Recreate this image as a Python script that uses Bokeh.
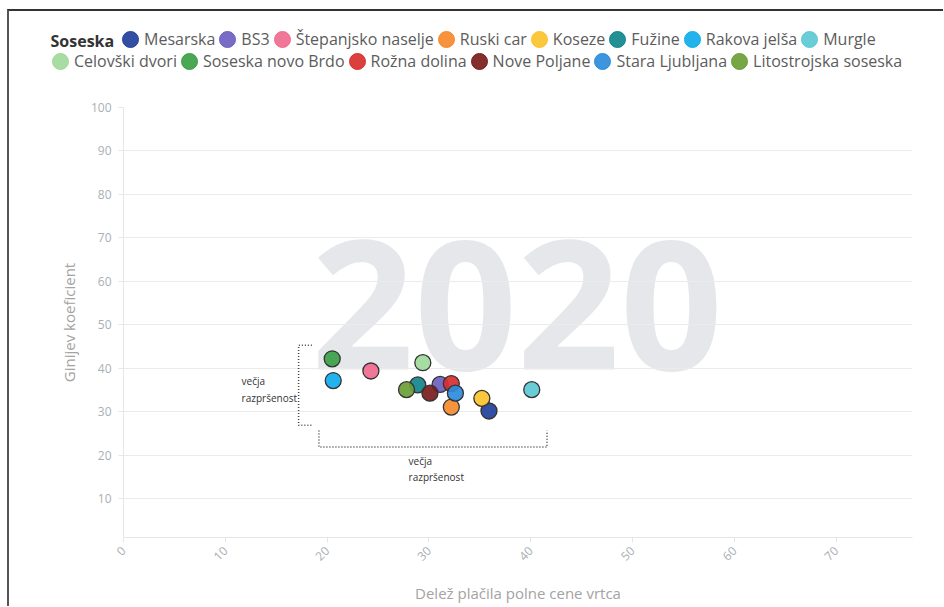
import math
from bokeh.plotting import figure
from bokeh.layouts import column
from bokeh.models import Legend, LegendItem, Label, FixedTicker
from bokeh.embed import file_html
from bokeh.resources import INLINE

# ---- data ----
names = ["Mesarska", "BS3", "Štepanjsko naselje", "Ruski car", "Koseze", "Fužine",
         "Rakova jelša", "Murgle", "Celovški dvori", "Soseska novo Brdo", "Rožna dolina",
         "Nove Poljane", "Stara Ljubljana", "Litostrojska soseska"]
colors = ["#22409c", "#6c5fc0", "#f06b8f", "#f58a2b", "#fbc22c", "#11868c",
          "#0fadea", "#5bc9d3", "#9fd99b", "#3b9f45", "#d8302f",
          "#7a1c1c", "#2b8cdb", "#6a9e36"]
share_full_price = [35.9, 31.1, 24.3, 32.2, 35.2, 28.9, 20.6, 40.1, 29.4, 20.5, 32.2, 30.1, 32.6, 27.8]
gini = [30.2, 36.3, 39.4, 31.1, 33.1, 36.2, 37.2, 35.1, 41.3, 42.2, 36.5, 34.3, 34.3, 35.1]
row1_count = 8
x_ticks = [0, 10, 20, 30, 40, 50, 60, 70]
y_ticks = [10, 20, 30, 40, 50, 60, 70, 80, 90, 100]
year = "2020"
legend_title = "Soseska"
x_title = "Delež plačila polne cene vrtca"
y_title = "Ginijev koeficient"
note_text = "večja\nrazpršenost"

FONT = "Open Sans"
W = 934
HEAD_H = 73
MAIN_H = 522

# ---------------- main chart ----------------
p = figure(width=W, height=MAIN_H, x_range=(0, 77.5), y_range=(1.1, 100),
           output_backend="svg", toolbar_location=None,
           min_border_left=114, min_border_right=31, min_border_top=23, min_border_bottom=69)
p.outline_line_color = None
p.background_fill_color = "white"
p.border_fill_color = "white"

p.xaxis.ticker = FixedTicker(ticks=x_ticks)
p.yaxis.ticker = FixedTicker(ticks=y_ticks)
p.xgrid.visible = False
p.ygrid.grid_line_color = "#ebebeb"
p.ygrid.grid_line_width = 1.2
for ax in (p.xaxis[0], p.yaxis[0]):
    ax.axis_line_color = "#e6e6e6"
    ax.major_tick_line_color = "#e6e6e6"
    ax.minor_tick_line_color = None
    ax.major_tick_out = 5
    ax.major_tick_in = 0
    ax.major_label_text_color = "#a9afb5"
    ax.major_label_text_font = FONT
    ax.major_label_text_font_size = "12px"
    ax.axis_label_text_font = FONT
    ax.axis_label_text_font_size = "15px"
    ax.axis_label_text_font_style = "normal"
    ax.axis_label_text_color = "#a3a3a3"
p.xaxis.major_label_orientation = math.pi / 4
p.xaxis.major_label_standoff = 6
p.yaxis.major_label_standoff = 7
p.xaxis.axis_label = x_title
p.yaxis.axis_label = y_title
p.xaxis.axis_label_standoff = 15
p.yaxis.axis_label_standoff = 9

# watermark
p.add_layout(Label(x=38.66, y=54.5, text=year, text_font=FONT, text_font_size="180px",
                   text_font_style="bold", text_color="#e5e7ea", text_align="center",
                   text_baseline="middle", level="image"))

# brackets
p.line([18.5, 17.2, 17.2, 18.5], [45.3, 45.3, 26.9, 26.9], line_color="#444444",
       line_width=1.5, line_dash="1 2")
p.line([19.2, 19.2, 41.6, 41.6], [25.7, 21.9, 21.9, 25.7], line_color="#444444",
       line_width=1.5, line_dash="1 2")
for nx, ny in [(11.6, 38.6), (28.0, 20.4)]:
    p.add_layout(Label(x=nx, y=ny, text=note_text, text_font=FONT, text_font_size="10px",
                       text_color="#333333", text_align="left", text_baseline="top",
                       text_line_height=1.15))

for n, c, xv, yv in zip(names, colors, share_full_price, gini):
    p.scatter([xv], [yv], size=16, fill_color=c, fill_alpha=0.92,
              line_color="#333333", line_width=1.3)

# ---------------- legend header ----------------
h = figure(width=W, height=HEAD_H, x_range=(0, W), y_range=(1000, 1000 + HEAD_H),
           output_backend="svg", toolbar_location=None, x_axis_type=None, y_axis_type=None,
           min_border_left=0, min_border_right=0, min_border_top=0, min_border_bottom=0)
h.outline_line_color = None
h.xgrid.visible = False
h.ygrid.visible = False
for fig in (h, p):
    if "frame_align" in fig.properties():
        fig.frame_align = False

# proxy renderers (same data, outside the header's visible range) feed the legend swatches
proxies = []
for n, c, xv, yv in zip(names, colors, share_full_price, gini):
    proxies.append(h.ellipse([xv], [yv], width=16, height=16, width_units="screen",
                             height_units="screen", fill_color=c, fill_alpha=0.92,
                             line_color=c, line_width=1))

common = dict(orientation="horizontal", glyph_width=20, glyph_height=20, label_standoff=4,
              spacing=2, padding=0, margin=0, background_fill_alpha=0,
              border_line_color=None, label_text_font=FONT, label_text_font_size="16px",
              label_text_color="#5c5c5c", label_width=0, label_height=20)
leg1 = Legend(items=[LegendItem(label=n, renderers=[r]) for n, r in
                     zip(names[:row1_count], proxies[:row1_count])],
              location=(111, 34), **common)
leg2 = Legend(items=[LegendItem(label=n, renderers=[r]) for n, r in
                     zip(names[row1_count:], proxies[row1_count:])],
              location=(41, 12), **common)
h.add_layout(leg1)
h.add_layout(leg2)
h.add_layout(Label(x=41, y=1044, text=legend_title, text_font=FONT, text_font_size="16px",
                   text_font_style="bold", text_color="#333333", text_baseline="middle",
                   text_align="left"))

page = column(h, p, spacing=0,
              styles={"margin-left": "7px", "margin-top": "9px",
                      "border-top": "2px solid #333333", "border-left": "2px solid #555555"})

open("out.html", "w").write(file_html(page, INLINE))
